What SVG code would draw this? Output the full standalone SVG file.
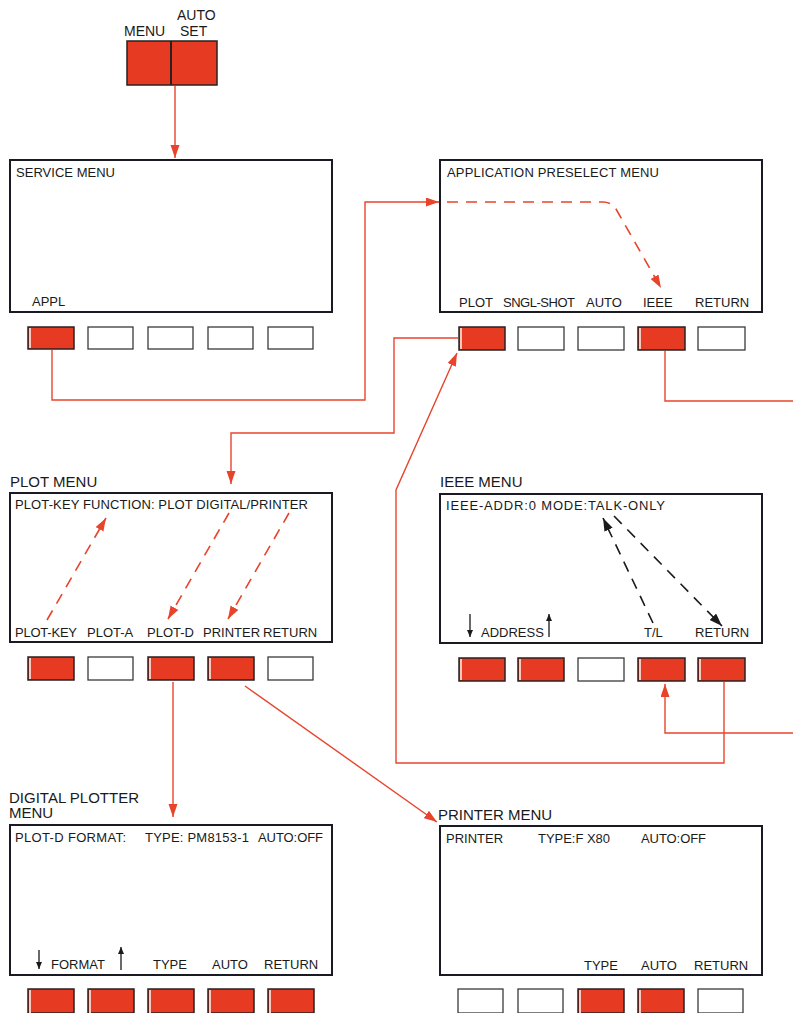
<svg xmlns="http://www.w3.org/2000/svg" width="793" height="1013" viewBox="0 0 793 1013">
<style>
text{font-family:"Liberation Sans",Arial,sans-serif;fill:#1a1a1a}
.t{font-size:13px}
.h{font-size:15px}
.k{font-size:14px}
.box{fill:#fff;stroke:#1a1a24;stroke-width:2}
.kr{fill:#e63b22;stroke:#2a2020;stroke-width:1.5}
.kw{fill:#fff;stroke:#3a3a3a;stroke-width:1.3}
.hl{stroke:#f6c9bc;stroke-width:2}
.c{fill:none;stroke:#e8442c;stroke-width:1.4}
.cd{fill:none;stroke:#e8442c;stroke-width:1.6;stroke-dasharray:11 8}
.bd{fill:none;stroke:#1a1a1a;stroke-width:1.6;stroke-dasharray:11 8}
.ba{fill:none;stroke:#1a1a1a;stroke-width:1.3}
</style>
<defs>
<marker id="ar" markerUnits="userSpaceOnUse" markerWidth="14" markerHeight="10" refX="13" refY="4.5" orient="auto"><path d="M0,0 L13,4.5 L0,9 z" fill="#e8442c"/></marker>
<marker id="ab" markerUnits="userSpaceOnUse" markerWidth="14" markerHeight="10" refX="13" refY="4.5" orient="auto"><path d="M0,0 L13,4.5 L0,9 z" fill="#1a1a1a"/></marker>
<marker id="as" markerUnits="userSpaceOnUse" markerWidth="8" markerHeight="8" refX="7" refY="3" orient="auto"><path d="M0,0 L7,3 L0,6 z" fill="#1a1a1a"/></marker>
</defs>

<g id="menu-autoset">
<text class="k" x="124" y="36">MENU</text>
<text class="k" x="177" y="20">AUTO</text>
<text class="k" x="180" y="36">SET</text>
<rect class="kr" x="127" y="41" width="90" height="44" stroke-width="2"/>
<line x1="171" y1="41" x2="171" y2="85" stroke="#2a2020" stroke-width="2"/>
</g>

<g id="service-menu">
<rect class="box" x="10" y="160" width="322" height="152"/>
<text class="t" x="16" y="177" textLength="99" lengthAdjust="spacing">SERVICE MENU</text>
<text class="t" x="32" y="306">APPL</text>
<rect class="kr" x="28" y="327" width="46" height="22"/><line class="hl" x1="30" y1="328" x2="30" y2="348"/>
<rect class="kw" x="88" y="327" width="45" height="22"/>
<rect class="kw" x="148" y="327" width="45" height="22"/>
<rect class="kw" x="208" y="327" width="45" height="22"/>
<rect class="kw" x="268" y="327" width="45" height="22"/>
</g>

<g id="application-preselect-menu">
<rect class="box" x="440" y="160" width="322" height="152"/>
<text class="t" x="447" y="177" textLength="212" lengthAdjust="spacing">APPLICATION PRESELECT MENU</text>
<text class="t" x="459" y="307">PLOT</text>
<text class="t" x="503" y="307" textLength="72" lengthAdjust="spacing">SNGL-SHOT</text>
<text class="t" x="586" y="307">AUTO</text>
<text class="t" x="643" y="307">IEEE</text>
<text class="t" x="695" y="307">RETURN</text>
<rect class="kr" x="459" y="327" width="46" height="23"/><line class="hl" x1="461" y1="328" x2="461" y2="349"/>
<rect class="kw" x="518" y="327" width="46" height="23"/>
<rect class="kw" x="578" y="327" width="46" height="23"/>
<rect class="kr" x="638" y="327" width="47" height="23"/><line class="hl" x1="640" y1="328" x2="640" y2="349"/>
<rect class="kw" x="698" y="327" width="47" height="23"/>
</g>

<g id="plot-menu">
<text class="h" x="10" y="487">PLOT MENU</text>
<rect class="box" x="10" y="493" width="322" height="149"/>
<text class="t" x="15" y="509" textLength="293" lengthAdjust="spacing">PLOT-KEY FUNCTION: PLOT DIGITAL/PRINTER</text>
<text class="t" x="15" y="637" textLength="62" lengthAdjust="spacing">PLOT-KEY</text>
<text class="t" x="87" y="637">PLOT-A</text>
<text class="t" x="147" y="637" textLength="47" lengthAdjust="spacing">PLOT-D</text>
<text class="t" x="203" y="637">PRINTER</text>
<text class="t" x="263" y="637">RETURN</text>
<rect class="kr" x="28" y="657" width="46" height="23"/><line class="hl" x1="30" y1="658" x2="30" y2="679"/>
<rect class="kw" x="88" y="657" width="45" height="23"/>
<rect class="kr" x="148" y="657" width="46" height="23"/><line class="hl" x1="150" y1="658" x2="150" y2="679"/>
<rect class="kr" x="208" y="657" width="46" height="23"/><line class="hl" x1="210" y1="658" x2="210" y2="679"/>
<rect class="kw" x="268" y="657" width="45" height="23"/>
</g>

<g id="ieee-menu">
<text class="h" x="440" y="487">IEEE MENU</text>
<rect class="box" x="440" y="494" width="322" height="149"/>
<text class="t" x="446" y="510" textLength="219" lengthAdjust="spacing">IEEE-ADDR:0 MODE:TALK-ONLY</text>
<line class="ba" x1="470" y1="614" x2="470" y2="637" marker-end="url(#as)"/>
<text class="t" x="481" y="637">ADDRESS</text>
<line class="ba" x1="549" y1="637" x2="549" y2="614" marker-end="url(#as)"/>
<text class="t" x="644" y="637">T/L</text>
<text class="t" x="695" y="637">RETURN</text>
<rect class="kr" x="459" y="658" width="46" height="23"/><line class="hl" x1="461" y1="659" x2="461" y2="680"/>
<rect class="kr" x="518" y="658" width="46" height="23"/><line class="hl" x1="520" y1="659" x2="520" y2="680"/>
<rect class="kw" x="578" y="658" width="46" height="23"/>
<rect class="kr" x="638" y="658" width="47" height="23"/><line class="hl" x1="640" y1="659" x2="640" y2="680"/>
<rect class="kr" x="698" y="658" width="47" height="23"/><line class="hl" x1="700" y1="659" x2="700" y2="680"/>
</g>

<g id="digital-plotter-menu">
<text class="h" x="9" y="803">DIGITAL PLOTTER</text>
<text class="h" x="9" y="818">MENU</text>
<rect class="box" x="10" y="825" width="322" height="150"/>
<text class="t" x="15" y="842" textLength="111" lengthAdjust="spacing">PLOT-D FORMAT:</text>
<text class="t" x="145" y="842" textLength="104" lengthAdjust="spacing">TYPE: PM8153-1</text>
<text class="t" x="258" y="842" textLength="65" lengthAdjust="spacing">AUTO:OFF</text>
<line class="ba" x1="39" y1="950" x2="39" y2="969" marker-end="url(#as)"/>
<text class="t" x="51" y="969">FORMAT</text>
<line class="ba" x1="121" y1="970" x2="121" y2="947" marker-end="url(#as)"/>
<text class="t" x="153" y="969">TYPE</text>
<text class="t" x="212" y="969">AUTO</text>
<text class="t" x="264" y="969">RETURN</text>
<rect class="kr" x="28" y="989" width="46" height="24"/><line class="hl" x1="30" y1="990" x2="30" y2="1013"/>
<rect class="kr" x="88" y="989" width="46" height="24"/><line class="hl" x1="90" y1="990" x2="90" y2="1013"/>
<rect class="kr" x="148" y="989" width="46" height="24"/><line class="hl" x1="150" y1="990" x2="150" y2="1013"/>
<rect class="kr" x="208" y="989" width="46" height="24"/><line class="hl" x1="210" y1="990" x2="210" y2="1013"/>
<rect class="kr" x="268" y="989" width="46" height="24"/><line class="hl" x1="270" y1="990" x2="270" y2="1013"/>
</g>

<g id="printer-menu">
<text class="h" x="438" y="820">PRINTER MENU</text>
<rect class="box" x="440" y="826" width="322" height="149"/>
<text class="t" x="446" y="843">PRINTER</text>
<text class="t" x="538" y="843" textLength="72" lengthAdjust="spacing">TYPE:F X80</text>
<text class="t" x="641" y="843" textLength="65" lengthAdjust="spacing">AUTO:OFF</text>
<text class="t" x="584" y="970">TYPE</text>
<text class="t" x="641" y="970">AUTO</text>
<text class="t" x="694" y="970">RETURN</text>
<rect class="kw" x="458" y="989" width="45" height="24"/>
<rect class="kw" x="518" y="989" width="45" height="24"/>
<rect class="kr" x="578" y="989" width="46" height="24"/><line class="hl" x1="580" y1="990" x2="580" y2="1013"/>
<rect class="kr" x="638" y="989" width="46" height="24"/><line class="hl" x1="640" y1="990" x2="640" y2="1013"/>
<rect class="kw" x="698" y="989" width="45" height="24"/>
</g>

<g id="connectors">
<path class="c" d="M175,86 V158" marker-end="url(#ar)"/>
<path class="c" d="M52,350 V400 H365 V202 H439" marker-end="url(#ar)"/>
<path class="cd" d="M447,202 H603 Q611,202 616,209 L661,288" marker-end="url(#ar)"/>
<path class="c" d="M458,338 H394 V433 H231 V484" marker-end="url(#ar)"/>
<path class="c" d="M665,351 V401 H793"/>
<path class="c" d="M793,733 H665 V684" marker-end="url(#ar)"/>
<path class="c" d="M724,682 V763 H396 V490 L457,353" marker-end="url(#ar)"/>
<path class="c" d="M173,682 V817" marker-end="url(#ar)"/>
<path class="c" d="M245,686 L437,822" marker-end="url(#ar)"/>
<path class="cd" d="M47,620 L106,518" marker-end="url(#ar)"/>
<path class="cd" d="M229,513 L168,619" marker-end="url(#ar)"/>
<path class="cd" d="M289,513 L228,619" marker-end="url(#ar)"/>
<path class="bd" d="M653,623 L603,518" marker-end="url(#ab)"/>
<path class="bd" d="M614,516 L722,626" marker-end="url(#ab)"/>
</g>
</svg>
